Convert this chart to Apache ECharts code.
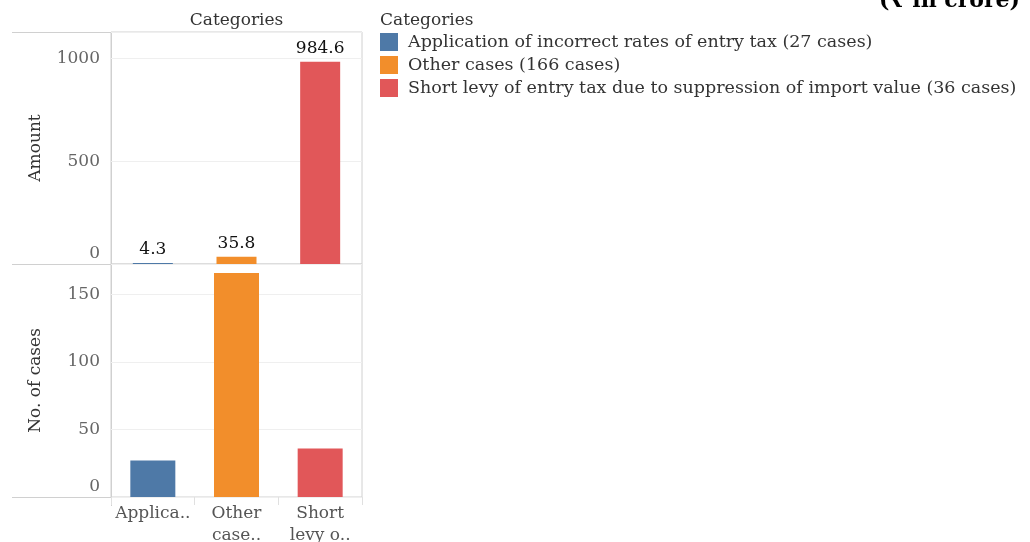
<!DOCTYPE html>
<html>
<head>
<meta charset="utf-8">
<script src="https://cdn.jsdelivr.net/npm/echarts@6/dist/echarts.min.js"></script>
<style>html,body{margin:0;padding:0;background:#fff;}#c{width:1030px;height:542px;}</style>
</head>
<body>
<div id="c"></div>
<script>
const categories = [
  'Application of incorrect rates of entry tax (27 cases)',
  'Other cases (166 cases)',
  'Short levy of entry tax due to suppression of import value (36 cases)'
];
const tickLabels = ['Applica..', 'Other\ncase..', 'Short\nlevy o..'];
const amounts = [4.3, 35.8, 984.6];
const cases = [27, 166, 36];
const colors = ['#4e79a7', '#f28e2b', '#e15759'];

const FONT = '"DejaVu Serif", "Liberation Serif", serif';
const FS = 17;
const chart = echarts.init(document.getElementById('c'));

function onlyAt(arr, i) { return arr.map((v, j) => (j === i ? v : null)); }

const series = [];
categories.forEach((name, i) => {
  series.push({
    name: name, type: 'bar', xAxisIndex: 0, yAxisIndex: 0, stack: 'amt',
    barWidth: 40, data: onlyAt(amounts, i),
    itemStyle: { color: colors[i] },
    label: { show: true, position: 'top', color: '#111', fontFamily: FONT, fontSize: FS, distance: 5,
             formatter: p => (p.value == null ? '' : p.value.toFixed(1)) }
  });
  series.push({
    name: name, type: 'bar', xAxisIndex: 1, yAxisIndex: 1, stack: 'cnt',
    barWidth: 45, data: onlyAt(cases, i),
    itemStyle: { color: colors[i] }
  });
});

function yLabel() {
  return {
    fontFamily: FONT, fontSize: FS, color: '#666', margin: 11, showMaxLabel: false,
    formatter: v => (v === 0 ? '{z|0}' : String(v)),
    rich: { z: { padding: [0, 0, 20, 0], fontFamily: FONT, fontSize: FS, color: '#666' } }
  };
}

chart.setOption({
  animation: false,
  textStyle: { fontFamily: FONT },
  legend: {
    orient: 'vertical', left: 375, top: 28, itemWidth: 18, itemHeight: 18, itemGap: 5,
    icon: 'rect', selectedMode: false,
    textStyle: { fontFamily: FONT, fontSize: 17.5, color: '#333', padding: [0, 0, 0, 5] },
    data: categories
  },
  title: {
    text: 'Categories', left: 375, top: 7,
    textStyle: { fontFamily: FONT, fontSize: FS, fontWeight: 'normal', color: '#333' }
  },
  grid: [
    { left: 111, top: 32, width: 251, height: 232, show: true, borderColor: '#d0d0d0', borderWidth: 1, outerBoundsMode: 'none', containLabel: false },
    { left: 111, top: 264, width: 251, height: 233, show: true, borderColor: '#d0d0d0', borderWidth: 1, outerBoundsMode: 'none', containLabel: false }
  ],
  xAxis: [
    { type: 'category', gridIndex: 0, data: categories, position: 'top',
      name: 'Categories', nameLocation: 'middle', nameGap: 3,
      nameTextStyle: { fontFamily: FONT, fontSize: FS, color: '#333', verticalAlign: 'bottom' },
      axisLine: { show: false }, axisTick: { show: false }, axisLabel: { show: false } },
    { type: 'category', gridIndex: 1, data: categories,
      axisLine: { show: false }, axisTick: { show: true, length: 8, lineStyle: { color: '#e0e0e0' } },
      axisLabel: { interval: 0, formatter: (v, i) => tickLabels[i], fontFamily: FONT, fontSize: FS, color: '#555', lineHeight: 22, margin: 6 } }
  ],
  yAxis: [
    { type: 'value', gridIndex: 0, min: 0, max: 1130, interval: 500,
      name: 'Amount', nameLocation: 'middle', nameGap: 67, nameRotate: 90,
      nameTextStyle: { fontFamily: FONT, fontSize: FS, color: '#333' },
      axisLine: { show: false }, axisTick: { show: false },
      splitLine: { lineStyle: { color: '#efefef' } },
      axisLabel: yLabel() },
    { type: 'value', gridIndex: 1, min: 0, max: 172.6, interval: 50,
      name: 'No. of cases', nameLocation: 'middle', nameGap: 67, nameRotate: 90,
      nameTextStyle: { fontFamily: FONT, fontSize: FS, color: '#333' },
      axisLine: { show: false }, axisTick: { show: false },
      splitLine: { lineStyle: { color: '#efefef' } },
      axisLabel: yLabel() }
  ],
  graphic: [
    { type: 'line', shape: { x1: 12, y1: 32.5, x2: 362, y2: 32.5 }, style: { stroke: '#d0d0d0', lineWidth: 1 } },
    { type: 'line', shape: { x1: 12, y1: 264.5, x2: 362, y2: 264.5 }, style: { stroke: '#d0d0d0', lineWidth: 1 } },
    { type: 'line', shape: { x1: 12, y1: 497.5, x2: 362, y2: 497.5 }, style: { stroke: '#d0d0d0', lineWidth: 1 } },
    { type: 'line', shape: { x1: 111.5, y1: 32, x2: 111.5, y2: 506 }, style: { stroke: '#d0d0d0', lineWidth: 1 } },
    { type: 'text', right: 10, top: -10,
      style: { text: '(\u20b9 in crore)', font: 'bold 22px ' + FONT, fill: '#000' } }
  ],
  series: series
});
</script>
</body>
</html>
